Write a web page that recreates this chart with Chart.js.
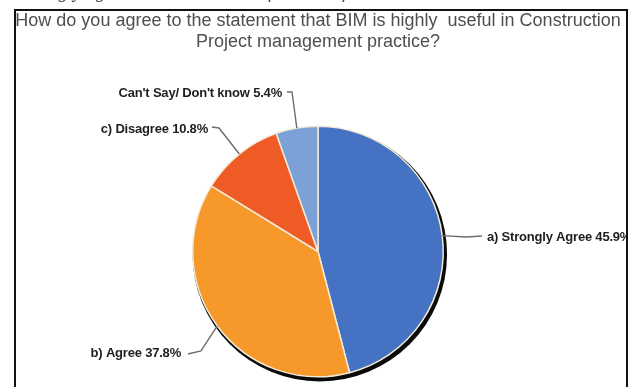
<!DOCTYPE html>
<html>
<head>
<meta charset="utf-8">
<script src="https://cdn.jsdelivr.net/npm/chart.js@4.4.1/dist/chart.umd.min.js"></script>
<style>
  html, body { margin: 0; padding: 0; background: #fff; }
  .wrap { position: relative; width: 632px; height: 387px; }
</style>
</head>
<body>
<div class="wrap"><canvas id="myChart"></canvas></div>
<script>
const categories = ['a) Strongly Agree', 'b) Agree', 'c) Disagree', "Can't Say/ Don't know"];
const shares = [45.9, 37.8, 10.8, 5.4];
const sliceColors = ['#4672c4', '#f7982a', '#ef5b25', '#7ba1d7'];

const titleLines = [
  'How do you agree to the statement that BIM is highly  useful in Construction',
  'Project management practice?',
];

// where each outside label goes: elbow of the leader, end of the leader, text anchor
const labelSpots = [
  { elbow: [466, 237], end: [482, 236], text: [487, 237], align: 'left' },
  { elbow: [201, 351], end: [188, 354], text: [181, 353], align: 'right' },
  { elbow: [219, 128], end: [212, 127], text: [208, 129], align: 'right' },
  { elbow: [292, 92], end: [287, 92], text: [282, 93], align: 'right' },
];

const ctx = document.getElementById('myChart').getContext('2d');

// heading, the cut-off caption above, labels with leaders, and the frame on top
const framePlugin = {
  id: 'frame',
  beforeDraw(chart) {
    const c = chart.ctx;
    c.save();
    c.fillStyle = '#fff';
    c.fillRect(0, 0, chart.width, chart.height);

    c.fillStyle = '#444';
    c.font = 'italic 19px "Liberation Serif"';
    c.textBaseline = 'alphabetic';
    c.textAlign = 'left';
    c.fillText('Strongly agree to the statement of BIM usefulness', 18, -2);

    c.fillStyle = '#4f4f4f';
    c.font = '18px "Liberation Sans"';
    c.textAlign = 'center';
    c.fillText(titleLines[0], 318, 26);
    c.fillText(titleLines[1], 318, 47);
    c.restore();
  },
  beforeDatasetsDraw(chart) {
    // dark rim that sits behind the pie, heavier to the lower right
    const arc = chart.getDatasetMeta(0).data[0];
    const c = chart.ctx;
    c.save();
    c.fillStyle = '#0a0a0a';
    c.beginPath();
    c.arc(arc.x + 1.8, arc.y + 2.8, arc.outerRadius + 2, 0, Math.PI * 2);
    c.fill();
    c.restore();
  },
  afterDatasetsDraw(chart) {
    const c = chart.ctx;
    const meta = chart.getDatasetMeta(0);
    c.save();
    c.beginPath();
    c.rect(0, 0, 627, chart.height);
    c.clip();
    meta.data.forEach((arc, i) => {
      const spot = labelSpots[i];
      const mid = (arc.startAngle + arc.endAngle) / 2;
      const sx = arc.x + Math.cos(mid) * arc.outerRadius;
      const sy = arc.y + Math.sin(mid) * arc.outerRadius;
      c.strokeStyle = '#6e6e6e';
      c.lineWidth = 1.4;
      c.beginPath();
      c.moveTo(sx, sy);
      c.lineTo(spot.elbow[0], spot.elbow[1]);
      c.lineTo(spot.end[0], spot.end[1]);
      c.stroke();

      c.fillStyle = '#1e1e1e';
      c.font = 'bold 13px "Liberation Sans"';
      c.letterSpacing = '-0.2px';
      c.textAlign = spot.align;
      c.textBaseline = 'middle';
      c.fillText(categories[i] + ' ' + shares[i].toFixed(1) + '%', spot.text[0], spot.text[1]);
    });
    c.restore();
  },
  afterDraw(chart) {
    const c = chart.ctx;
    c.save();
    c.strokeStyle = '#111';
    c.lineWidth = 2;
    c.beginPath();
    c.moveTo(15, 400);
    c.lineTo(15, 10);
    c.lineTo(627, 10);
    c.lineTo(627, 400);
    c.stroke();
    c.restore();
  },
};

const myChart = new Chart(ctx, {
  type: 'pie',
  data: {
    labels: categories,
    datasets: [
      {
        data: shares,
        backgroundColor: sliceColors,
        borderColor: '#f3ead6',
        borderWidth: 1.5,
      },
    ],
  },
  options: {
    responsive: true,
    maintainAspectRatio: false,
    animation: false,
    layout: {
      padding: { left: 192, right: 188, top: 125, bottom: 9 },
    },
    plugins: {
      legend: { display: false },
      title: { display: false },
      tooltip: { enabled: false },
    },
  },
  plugins: [framePlugin],
});
</script>
</body>
</html>
